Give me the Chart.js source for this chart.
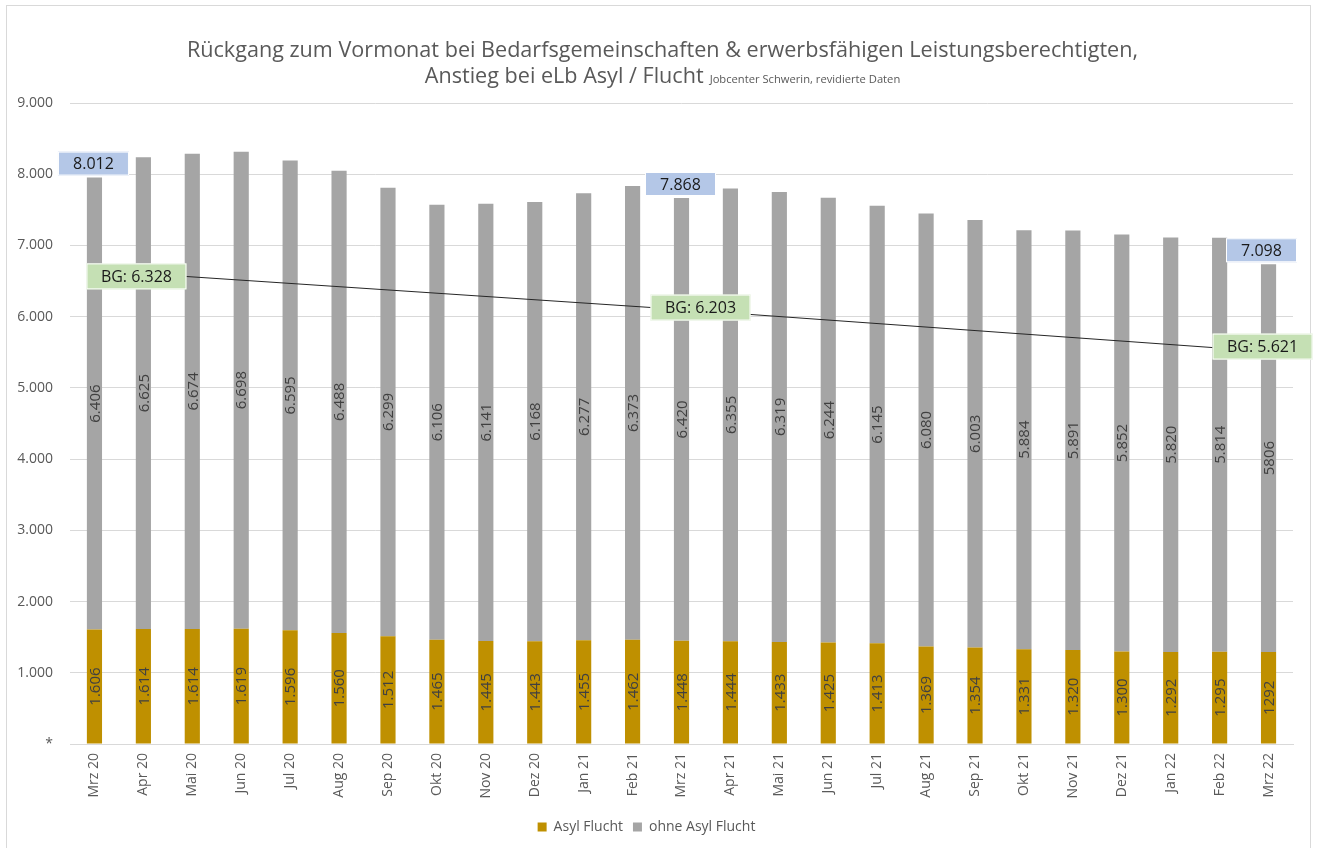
<!DOCTYPE html>
<html lang="de">
<head>
<meta charset="utf-8">
<title>Rückgang zum Vormonat – Jobcenter Schwerin</title>
<script src="https://cdn.jsdelivr.net/npm/chart.js@4.4.1/dist/chart.umd.min.js"></script>
<style>
    html, body { margin: 0; padding: 0; background: #ffffff; }
    #wrap { position: relative; width: 1317px; height: 848px; }
</style>
</head>
<body>
<div id="wrap"><canvas id="chart"></canvas></div>
<script>
// Data
const months = [
    'Mrz 20', 'Apr 20', 'Mai 20', 'Jun 20', 'Jul 20', 'Aug 20', 'Sep 20', 'Okt 20', 'Nov 20', 'Dez 20',
    'Jan 21', 'Feb 21', 'Mrz 21', 'Apr 21', 'Mai 21', 'Jun 21', 'Jul 21', 'Aug 21', 'Sep 21', 'Okt 21',
    'Nov 21', 'Dez 21', 'Jan 22', 'Feb 22', 'Mrz 22'
];

// Asyl Flucht (bottom segment)
const asylFlucht = [
    1606, 1614, 1614, 1619, 1596, 1560, 1512, 1465, 1445, 1443,
    1455, 1462, 1448, 1444, 1433, 1425, 1413, 1369, 1354, 1331,
    1320, 1300, 1292, 1295, 1292
];

// ohne Asyl Flucht (top segment, drawn height; the March bars are shorter than their labels)
const ohneAsylFlucht = [
    6347, 6625, 6674, 6698, 6595, 6488, 6299, 6106, 6141, 6168,
    6277, 6373, 6218, 6355, 6319, 6244, 6145, 6080, 6003, 5884,
    5891, 5852, 5820, 5814, 5444
];

// printed labels
const asylText = [
    '1.606', '1.614', '1.614', '1.619', '1.596', '1.560', '1.512', '1.465', '1.445', '1.443',
    '1.455', '1.462', '1.448', '1.444', '1.433', '1.425', '1.413', '1.369', '1.354', '1.331',
    '1.320', '1.300', '1.292', '1.295', '1292'
];
const ohneAsylText = [
    '6.406', '6.625', '6.674', '6.698', '6.595', '6.488', '6.299', '6.106', '6.141', '6.168',
    '6.277', '6.373', '6.420', '6.355', '6.319', '6.244', '6.145', '6.080', '6.003', '5.884',
    '5.891', '5.852', '5.820', '5.814', '5806'
];

// BG line (only March values, gaps spanned)
const bgLine = [
    6650, null, null, null, null, null, null, null, null, null,
    null, null, 6100, null, null, null, null, null, null, null,
    null, null, null, null, 5510
];
const bgIndex = [0, 12, 24];
const bgText = ['BG: 6.328', 'BG: 6.203', 'BG: 5.621'];
const totalText = ['8.012', '7.868', '7.098'];

const yTickLabels = ['*', '1.000', '2.000', '3.000', '4.000', '5.000', '6.000', '7.000', '8.000', '9.000'];

// Colors
const GOLD = '#BF9000';
const GREY = '#A5A5A5';
const TEXT = '#595959';
const LABEL = '#404040';
const GRID = '#D9D9D9';
const FONT = "'Open Sans', sans-serif";

Chart.defaults.font.family = FONT;
Chart.defaults.color = TEXT;

// Background, frame and title
const framePlugin = {
    id: 'frame',
    beforeDraw(chart) {
        const ctx = chart.ctx;
        ctx.save();
        ctx.fillStyle = '#ffffff';
        ctx.fillRect(0, 0, chart.width, chart.height);
        ctx.strokeStyle = GRID;
        ctx.lineWidth = 1;
        ctx.strokeRect(6.5, 5.5, chart.width - 13, chart.height + 20);
        ctx.restore();
    },
    afterDraw(chart) {
        const ctx = chart.ctx;
        const cx = chart.width / 2 + 4;
        ctx.save();
        ctx.fillStyle = TEXT;
        ctx.textBaseline = 'alphabetic';
        ctx.textAlign = 'center';
        ctx.font = '21.6px ' + FONT;
        ctx.fillText('Rückgang zum Vormonat bei Bedarfsgemeinschaften & erwerbsfähigen Leistungsberechtigten,', cx, 57);

        // second line: big part + small source note, centered together
        const big = 'Anstieg bei eLb Asyl / Flucht';
        const small = 'Jobcenter Schwerin, revidierte Daten';
        ctx.font = '21.6px ' + FONT;
        const wBig = ctx.measureText(big).width;
        ctx.font = '11.2px ' + FONT;
        const wSmall = ctx.measureText(small).width;
        const gap = 6;
        let x = cx - (wBig + gap + wSmall) / 2;
        ctx.textAlign = 'left';
        ctx.font = '21.6px ' + FONT;
        ctx.fillText(big, x, 83);
        ctx.font = '11.2px ' + FONT;
        ctx.fillText(small, x + wBig + gap, 83);
        ctx.restore();
    }
};

function drawBox(ctx, cx, cy, w, h, fill, text) {
    ctx.fillStyle = fill;
    ctx.fillRect(cx - w / 2, cy - h / 2, w, h);
    ctx.strokeStyle = '#ffffff';
    ctx.lineWidth = 1;
    ctx.strokeRect(cx - w / 2 + 0.5, cy - h / 2 + 0.5, w - 1, h - 1);
    ctx.fillStyle = '#1a1a1a';
    ctx.textAlign = 'center';
    ctx.textBaseline = 'middle';
    ctx.fillText(text, cx, cy + 1);
}

// Value labels inside bars + callout boxes
const labelPlugin = {
    id: 'barLabels',
    afterDatasetsDraw(chart) {
        const ctx = chart.ctx;
        const texts = [asylText, ohneAsylText];
        ctx.save();
        ctx.font = '15px ' + FONT;
        ctx.fillStyle = LABEL;
        ctx.textAlign = 'center';
        ctx.textBaseline = 'middle';
        [0, 1].forEach(di => {
            chart.getDatasetMeta(di).data.forEach((bar, i) => {
                const mid = (bar.y + bar.base) / 2;
                ctx.save();
                ctx.translate(bar.x + 1, mid);
                ctx.rotate(-Math.PI / 2);
                ctx.fillText(texts[di][i], 0, 0);
                ctx.restore();
            });
        });

        // blue totals above the March bars
        ctx.font = '16px ' + FONT;
        const greyMeta = chart.getDatasetMeta(1);
        const right = chart.chartArea.right + 4;
        bgIndex.forEach((idx, k) => {
            const bar = greyMeta.data[idx];
            const w = 71, h = 24;
            const cx = Math.min(bar.x - 1, right - w / 2);
            drawBox(ctx, cx, bar.y - 2 - h / 2, w, h, '#B4C7E7', totalText[k]);
        });

        // green BG callouts on the line
        const lineMeta = chart.getDatasetMeta(2);
        const offsets = [[42, 6], [19, -2], [-6, -5]];
        bgIndex.forEach((idx, k) => {
            const pt = lineMeta.data[idx];
            drawBox(ctx, pt.x + offsets[k][0], pt.y + offsets[k][1], 100, 26, '#C5E0B4', bgText[k]);
        });
        ctx.restore();
    }
};

new Chart(document.getElementById('chart'), {
    type: 'bar',
    data: {
        labels: months,
        datasets: [
            {
                label: 'Asyl Flucht',
                data: asylFlucht,
                backgroundColor: GOLD,
                stack: 'total',
                order: 1
            },
            {
                label: 'ohne Asyl Flucht',
                data: ohneAsylFlucht,
                backgroundColor: GREY,
                stack: 'total',
                order: 1
            },
            {
                type: 'line',
                label: 'BG',
                data: bgLine,
                borderColor: '#262626',
                borderWidth: 1,
                pointRadius: 0,
                spanGaps: true,
                tension: 0,
                order: 0
            }
        ]
    },
    options: {
        responsive: true,
        maintainAspectRatio: false,
        animation: false,
        layout: {
            padding: { top: 103, right: 24, bottom: 4, left: 0 }
        },
        datasets: {
            bar: { categoryPercentage: 1, barPercentage: 0.31 }
        },
        plugins: {
            title: { display: false },
            tooltip: { enabled: false },
            legend: {
                position: 'bottom',
                labels: {
                    color: TEXT,
                    font: { size: 14 },
                    boxWidth: 9,
                    boxHeight: 9,
                    padding: 10,
                    filter: item => item.datasetIndex < 2
                }
            }
        },
        scales: {
            x: {
                stacked: true,
                grid: { display: false, drawTicks: false },
                border: { display: true, color: GRID },
                ticks: {
                    color: TEXT,
                    font: { size: 14 },
                    minRotation: 90,
                    maxRotation: 90,
                    padding: 9,
                    autoSkip: false
                },
                afterFit(scale) { scale.height = 66; }
            },
            y: {
                stacked: true,
                min: 0,
                max: 9000,
                grid: { color: GRID, drawTicks: false },
                border: { display: false },
                ticks: {
                    stepSize: 1000,
                    color: TEXT,
                    font: { size: 14 },
                    padding: 17,
                    callback: (v, i) => yTickLabels[i]
                },
                afterFit(scale) { scale.width = 70; }
            }
        }
    },
    plugins: [framePlugin, labelPlugin]
});
</script>
</body>
</html>
